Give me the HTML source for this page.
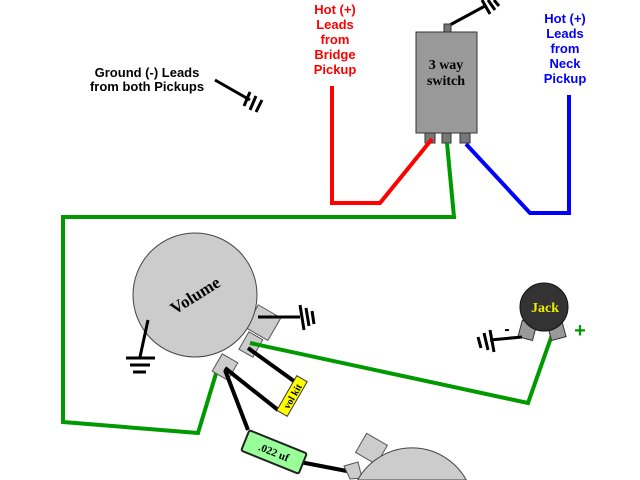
<!DOCTYPE html>
<html><head><style>html,body{margin:0;padding:0;width:640px;height:480px;overflow:hidden;background:#fff}svg{display:block}</style></head><body>
<svg width="640" height="480" viewBox="0 0 640 480" font-family="Liberation Sans, sans-serif" overflow="hidden">
<rect width="640" height="480" fill="#fff"/>
<g font-weight="bold" font-size="13" text-anchor="middle">
<text x="335" y="14" fill="#f00">Hot (+)</text><text x="335" y="29" fill="#f00">Leads</text><text x="335" y="44" fill="#f00">from</text><text x="335" y="59" fill="#f00">Bridge</text><text x="335" y="74" fill="#f00">Pickup</text>
<text x="565" y="23" fill="#00f">Hot (+)</text><text x="565" y="38" fill="#00f">Leads</text><text x="565" y="53" fill="#00f">from</text><text x="565" y="68" fill="#00f">Neck</text><text x="565" y="83" fill="#00f">Pickup</text>
<text x="147" y="77" fill="#000">Ground (-) Leads</text><text x="147" y="91" fill="#000">from both Pickups</text>
</g>
<g stroke="#000" stroke-width="3" fill="none">
<line x1="215" y1="80" x2="250" y2="100"/>
<line x1="244" y1="106" x2="250" y2="92"/><line x1="250" y1="110" x2="256" y2="96"/><line x1="256" y1="112" x2="262" y2="100"/>
<line x1="448" y1="26" x2="485" y2="6"/>
<line x1="482" y1="0" x2="490" y2="14"/><line x1="488" y1="0" x2="495" y2="10"/><line x1="494" y1="0" x2="499" y2="6"/>
</g>
<rect x="444" y="24" width="7" height="8" fill="#777" stroke="#333"/>
<rect x="416" y="32" width="61" height="101" fill="#999" stroke="#333"/>
<text x="446" y="69" font-family="Liberation Serif, serif" font-weight="bold" font-size="14" text-anchor="middle">3 way</text>
<text x="446" y="85" font-family="Liberation Serif, serif" font-weight="bold" font-size="14" text-anchor="middle">switch</text>
<rect x="425" y="133" width="10" height="10" fill="#777" stroke="#333"/>
<rect x="442" y="133" width="9" height="10" fill="#777" stroke="#333"/>
<rect x="460" y="133" width="10" height="10" fill="#777" stroke="#333"/>
<polyline points="332,86 332,203 380,203 432,139" stroke="#f00" stroke-width="4" fill="none"/>
<polyline points="466,144 530,213 569,213 569,95" stroke="#00f" stroke-width="4" fill="none"/>
<polyline points="447,143 454,217 63,217 63,422 198,433 218,367" stroke="#090" stroke-width="4" fill="none"/>
<g transform="rotate(30 260 322)"><rect x="250" y="308" width="26" height="26" fill="#ccc" stroke="#555"/></g>
<g transform="rotate(30 250 344)"><rect x="243" y="334" width="16" height="20" fill="#ccc" stroke="#555"/></g>
<g transform="rotate(30 225 367)"><rect x="216" y="357" width="18" height="20" fill="#ccc" stroke="#555"/></g>
<circle cx="195" cy="295" r="62" fill="#ccc" stroke="#444"/>
<text x="195" y="301" font-family="Liberation Serif, serif" font-weight="bold" font-size="17" text-anchor="middle" transform="rotate(-32 195 295)">Volume</text>
<g stroke="#000" stroke-width="3"><line x1="148" y1="320" x2="140" y2="357"/><line x1="126" y1="358" x2="155" y2="358"/><line x1="130" y1="365" x2="150" y2="365"/><line x1="133" y1="372" x2="146" y2="372"/>
<line x1="258" y1="317" x2="300" y2="317"/><line x1="300" y1="305" x2="304" y2="330"/><line x1="306" y1="308" x2="309" y2="326"/><line x1="312" y1="311" x2="314" y2="324"/></g>
<polyline points="250,343 528,403 553,332" stroke="#090" stroke-width="4" fill="none"/>
<g stroke="#000" stroke-width="4"><line x1="248" y1="348" x2="298" y2="384"/><line x1="225" y1="368" x2="278" y2="410"/><line x1="225" y1="370" x2="248" y2="430"/><line x1="300" y1="462" x2="352" y2="472"/></g>
<g transform="rotate(-60 292 396)"><rect x="272" y="390" width="40" height="12" fill="#ff0" stroke="#333"/><text x="292" y="400" font-family="Liberation Serif, serif" font-weight="bold" font-size="10" text-anchor="middle">vol kit</text></g>
<g transform="rotate(22 274 452)"><rect x="243" y="441" width="62" height="22" rx="2" fill="#9f9" stroke="#222" stroke-width="2"/><text x="274" y="456" font-family="Liberation Serif, serif" font-weight="bold" font-size="11" text-anchor="middle">.022 uf</text></g>
<g transform="rotate(30 372 448)"><rect x="360" y="438" width="24" height="22" fill="#ccc" stroke="#555"/></g>
<path d="M344 466 L358 462 L362 478 L350 479 Z" fill="#ccc" stroke="#555"/>
<path d="M357.7 480 A62 62 0 0 1 466.3 480 Z" fill="#ccc" stroke="#444"/>
<g transform="rotate(15 528 330)"><rect x="520" y="322" width="15" height="17" fill="#999" stroke="#333"/></g>
<g transform="rotate(-15 556 330)"><rect x="549" y="322" width="15" height="17" fill="#999" stroke="#333"/></g>
<circle cx="544" cy="307" r="24" fill="#333" stroke="#111"/>
<text x="545" y="312" font-family="Liberation Serif, serif" font-weight="bold" font-size="14" fill="#ee0" text-anchor="middle">Jack</text>
<text x="507" y="334" font-weight="bold" font-size="16" fill="#000" text-anchor="middle">-</text>
<text x="580" y="337" font-weight="bold" font-size="20" fill="#090" text-anchor="middle">+</text>
<g stroke="#000" stroke-width="3"><line x1="522" y1="337" x2="490" y2="340"/><line x1="490" y1="330" x2="494" y2="352"/><line x1="484" y1="333" x2="488" y2="350"/><line x1="478" y1="337" x2="481" y2="348"/></g>
</svg>
</body></html>
